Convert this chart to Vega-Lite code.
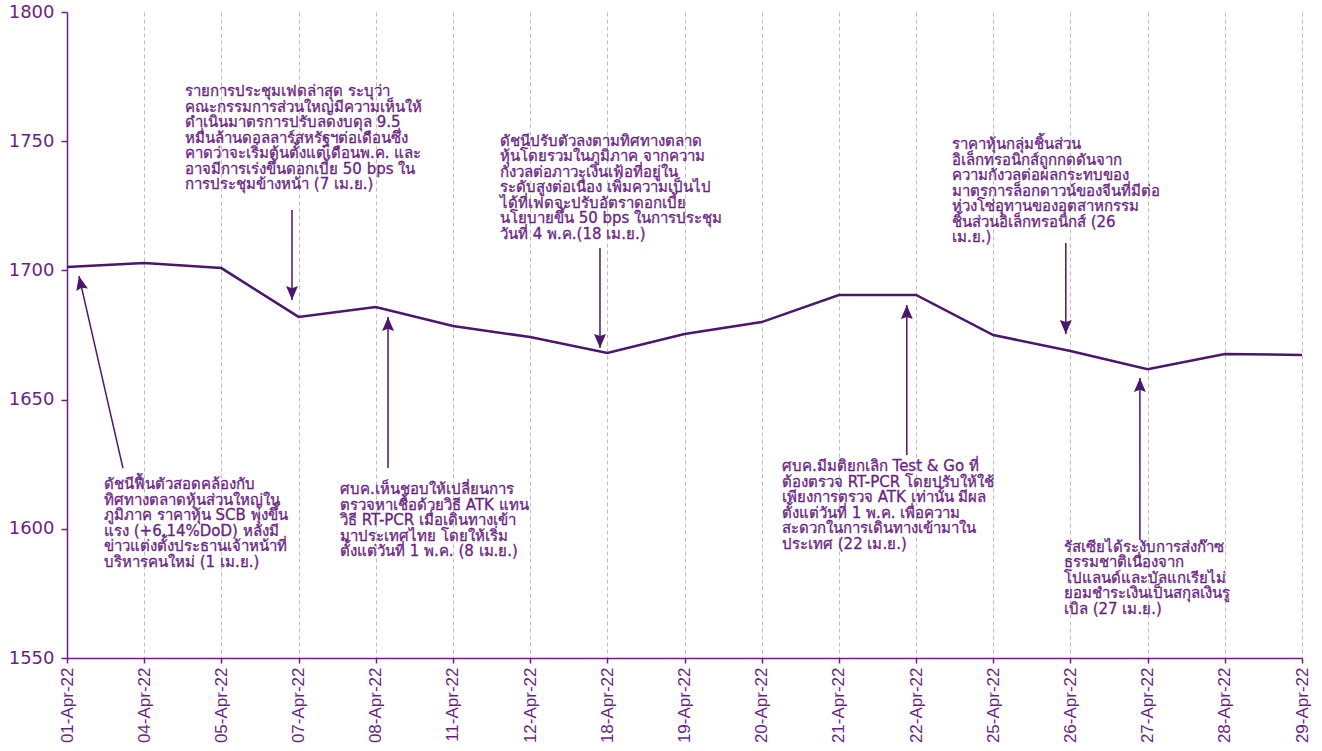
{
  "$schema": "https://vega.github.io/schema/vega-lite/v6.json",
  "width": 1235,
  "height": 646,
  "autosize": {"type": "none"},
  "padding": {"left": 67, "top": 12, "right": 20, "bottom": 93},
  "background": "white",
  "config": {"view": {"stroke": null}},
  "datasets": {
    "series": [
      {"i": 0, "date": "01-Apr-22", "value": 1701.3},
      {"i": 1, "date": "04-Apr-22", "value": 1702.9},
      {"i": 2, "date": "05-Apr-22", "value": 1700.9},
      {"i": 3, "date": "07-Apr-22", "value": 1682.0},
      {"i": 4, "date": "08-Apr-22", "value": 1685.8},
      {"i": 5, "date": "11-Apr-22", "value": 1678.5},
      {"i": 6, "date": "12-Apr-22", "value": 1674.2},
      {"i": 7, "date": "18-Apr-22", "value": 1668.0},
      {"i": 8, "date": "19-Apr-22", "value": 1675.4},
      {"i": 9, "date": "20-Apr-22", "value": 1680.0},
      {"i": 10, "date": "21-Apr-22", "value": 1690.5},
      {"i": 11, "date": "22-Apr-22", "value": 1690.5},
      {"i": 12, "date": "25-Apr-22", "value": 1675.0},
      {"i": 13, "date": "26-Apr-22", "value": 1668.8},
      {"i": 14, "date": "27-Apr-22", "value": 1661.8},
      {"i": 15, "date": "28-Apr-22", "value": 1667.6},
      {"i": 16, "date": "29-Apr-22", "value": 1667.3}
    ],
    "arrows": [
      {"i": 0.725, "v": 1623.5, "i2": 0.155, "v2": 1697.8, "dir": "upleft"},
      {"i": 2.915, "v": 1723.4, "i2": 2.915, "v2": 1688.5, "dir": "down"},
      {"i": 4.159, "v": 1623.5, "i2": 4.159, "v2": 1682.0, "dir": "up"},
      {"i": 6.905, "v": 1708.7, "i2": 6.905, "v2": 1670.0, "dir": "down"},
      {"i": 10.88, "v": 1628.6, "i2": 10.88, "v2": 1686.6, "dir": "up"},
      {"i": 12.94, "v": 1710.6, "i2": 12.94, "v2": 1675.4, "dir": "down"},
      {"i": 13.9, "v": 1595.7, "i2": 13.9, "v2": 1658.4, "dir": "up"}
    ],
    "notes": [
      {"i": 1.529, "v": 1772.1, "text": "รายการประชุมเฟดล่าสุด ระบุว่า\nคณะกรรมการส่วนใหญ่มีความเห็นให้\nดำเนินมาตรการปรับลดงบดุล 9.5\nหมื่นล้านดอลลาร์สหรัฐฯต่อเดือนซึ่ง\nคาดว่าจะเริ่มต้นตั้งแต่เดือนพ.ค.  และ\nอาจมีการเร่งขึ้นดอกเบี้ย 50 bps ใน\nการประชุมข้างหน้า (7 เม.ย.)"},
      {"i": 5.609, "v": 1752.8, "text": "ดัชนีปรับตัวลงตามทิศทางตลาด\nหุ้นโดยรวมในภูมิภาค จากความ\nกังวลต่อภาวะเงินเฟ้อที่อยู่ใน\nระดับสูงต่อเนื่อง เพิ่มความเป็นไป\nได้ที่เฟดจะปรับอัตราดอกเบี้ย\nนโยบายขึ้น 50 bps ในการประชุม\nวันที่ 4 พ.ค.(18 เม.ย.)"},
      {"i": 11.465, "v": 1751.6, "text": "ราคาหุ้นกลุ่มชิ้นส่วน\nอิเล็กทรอนิกส์ถูกกดดันจาก\nความกังวลต่อผลกระทบของ\nมาตรการล็อกดาวน์ของจีนที่มีต่อ\nห่วงโซ่อุทานของอุตสาหกรรม\nชิ้นส่วนอิเล็กทรอนิกส์ (26\nเม.ย.)"},
      {"i": 0.479, "v": 1620.0, "text": "ดัชนีฟื้นตัวสอดคล้องกับ\nทิศทางตลาดหุ้นส่วนใหญ่ใน\nภูมิภาค ราคาหุ้น SCB พุ่งขึ้น\nแรง (+6.14%DoD)  หลังมี\nข่าวแต่งตั้งประธานเจ้าหน้าที่\nบริหารคนใหม่  (1 เม.ย.)"},
      {"i": 3.537, "v": 1618.1, "text": "ศบค.เห็นชอบให้เปลี่ยนการ\nตรวจหาเชื้อด้วยวิธี  ATK แทน\nวิธี RT-PCR เมื่อเดินทางเข้า\nมาประเทศไทย  โดยให้เริ่ม\nตั้งแต่วันที่ 1 พ.ค. (8 เม.ย.)"},
      {"i": 9.263, "v": 1627.0, "text": "ศบค.มีมติยกเลิก Test & Go ที่\nต้องตรวจ RT-PCR โดยปรับให้ใช้\nเพียงการตรวจ ATK เท่านั้น มีผล\nตั้งแต่วันที่ 1 พ.ค. เพื่อความ\nสะดวกในการเดินทางเข้ามาใน\nประเทศ (22 เม.ย.)"},
      {"i": 12.916, "v": 1595.7, "text": "รัสเซียได้ระงับการส่งก๊าซ\nธรรมชาติเนื่องจาก\nโปแลนด์และบัลแกเรียไม่\nยอมชำระเงินเป็นสกุลเงินรู\nเบิล (27 เม.ย.)"}
    ]
  },
  "layer": [
    {
      "data": {"name": "series"},
      "mark": {"type": "line", "color": "#4b1670", "strokeWidth": 2.5, "strokeJoin": "miter"},
      "encoding": {
        "x": {
          "field": "i",
          "type": "quantitative",
          "scale": {"domain": [0, 16], "nice": false, "zero": false},
          "axis": {
            "title": null,
            "values": [0, 1, 2, 3, 4, 5, 6, 7, 8, 9, 10, 11, 12, 13, 14, 15, 16],
            "labelExpr": "['01-Apr-22','04-Apr-22','05-Apr-22','07-Apr-22','08-Apr-22','11-Apr-22','12-Apr-22','18-Apr-22','19-Apr-22','20-Apr-22','21-Apr-22','22-Apr-22','25-Apr-22','26-Apr-22','27-Apr-22','28-Apr-22','29-Apr-22'][datum.value]",
            "labelAngle": 270,
            "labelFont": "Liberation Sans",
            "labelFontSize": 17,
            "labelFontWeight": 500,
            "labelColor": "#6a1f86",
            "labelPadding": 4,
            "labelOverlap": false,
            "labelFlush": false,
            "domainColor": "#6a1f86",
            "domainWidth": 1.5,
            "tickColor": "#6a1f86",
            "tickSize": 5,
            "tickWidth": 1.5,
            "grid": true,
            "gridColor": "#bdbdbd",
            "gridDash": [4, 3],
            "gridWidth": 1
          }
        },
        "y": {
          "field": "value",
          "type": "quantitative",
          "scale": {"domain": [1550, 1800], "nice": false, "zero": false},
          "axis": {
            "title": null,
            "format": "d",
            "values": [1550, 1600, 1650, 1700, 1750, 1800],
            "labelFont": "DejaVu Sans",
            "labelFontSize": 18,
            "labelColor": "#6a1f86",
            "labelPadding": 7,
            "domainColor": "#6a1f86",
            "domainWidth": 1.5,
            "tickColor": "#6a1f86",
            "tickSize": 6,
            "tickWidth": 1.5,
            "grid": false
          }
        }
      }
    },
    {
      "data": {"name": "arrows"},
      "mark": {"type": "rule", "color": "#4b1670", "strokeWidth": 1.5},
      "encoding": {
        "x": {"field": "i", "type": "quantitative"},
        "y": {"field": "v", "type": "quantitative"},
        "x2": {"field": "i2"},
        "y2": {"field": "v2"}
      }
    },
    {
      "data": {"name": "arrows"},
      "mark": {"type": "point", "filled": true, "color": "#4b1670", "opacity": 1, "size": 196},
      "encoding": {
        "x": {"field": "i2", "type": "quantitative"},
        "y": {"field": "v2", "type": "quantitative"},
        "shape": {
          "field": "dir",
          "type": "nominal",
          "legend": null,
          "scale": {
            "domain": ["up", "down", "upleft"],
            "range": [
              "M0,0L-0.85,2L0,1.7L0.85,2Z",
              "M0,0L-0.85,-2L0,-1.7L0.85,-2Z",
              "M0,0L-0.378,2.139L0.383,1.656L1.278,1.757Z"
            ]
          }
        }
      }
    },
    {
      "data": {"name": "notes"},
      "mark": {
        "type": "text",
        "align": "left",
        "baseline": "top",
        "lineBreak": "\n",
        "lineHeight": 15.5,
        "font": "DejaVu Sans",
        "fontSize": 15,
        "color": "#6a1f86",
        "stroke": "#6a1f86",
        "strokeWidth": 0.3
      },
      "encoding": {
        "x": {"field": "i", "type": "quantitative"},
        "y": {"field": "v", "type": "quantitative"},
        "text": {"field": "text"}
      }
    }
  ]
}
